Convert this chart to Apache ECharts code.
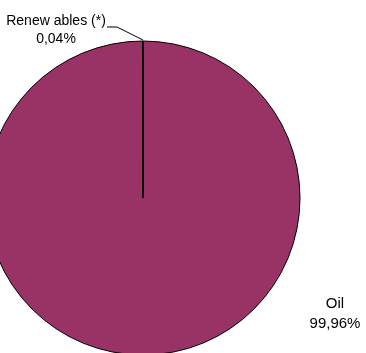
<!DOCTYPE html>
<html>
<head>
<meta charset="utf-8">
<script src="https://cdn.jsdelivr.net/npm/echarts@6/dist/echarts.min.js"></script>
<style>html,body{margin:0;padding:0;background:#fff;}#c{width:366px;height:353px;}</style>
</head>
<body>
<div id="c"></div>
<script>
const categories = ["Oil", "Renew ables (*)"];
const values = [99.96, 0.04];
const valueLabels = ["99,96%", "0,04%"];

const chart = echarts.init(document.getElementById('c'), null, {renderer: 'canvas'});
const labelStyle = [
  {x: 335, y: 314, fontSize: 15, lineHeight: 20},
  {x: 56, y: 30, fontSize: 14, lineHeight: 18}
];
chart.setOption({
  animation: false,
  series: [{
    type: 'pie',
    center: [143, 198],
    radius: 157,
    startAngle: 90,
    clockwise: true,
    silent: true,
    data: categories.map((c, i) => ({
      name: c,
      value: values[i],
      itemStyle: {color: '#993366'},
      labelLine: {show: i === 1},
      label: {fontSize: labelStyle[i].fontSize, lineHeight: labelStyle[i].lineHeight}
    })),
    itemStyle: {borderColor: '#000', borderWidth: 1},
    label: {
      show: true,
      position: 'outside',
      color: '#000',
      fontFamily: 'Liberation Sans, Arial, sans-serif',
      align: 'center',
      formatter: p => p.name + '\n' + valueLabels[p.dataIndex]
    },
    labelLine: {lineStyle: {color: '#000', width: 1}, length: 10, length2: 10},
    labelLayout: function (params) {
      const p = labelStyle[params.dataIndex];
      const r = {x: p.x, y: p.y, align: 'center', verticalAlign: 'middle'};
      if (params.dataIndex === 1) {
        r.labelLinePoints = [[107, 27], [117, 27], [143, 40]];
      }
      return r;
    }
  }]
});
</script>
</body>
</html>
